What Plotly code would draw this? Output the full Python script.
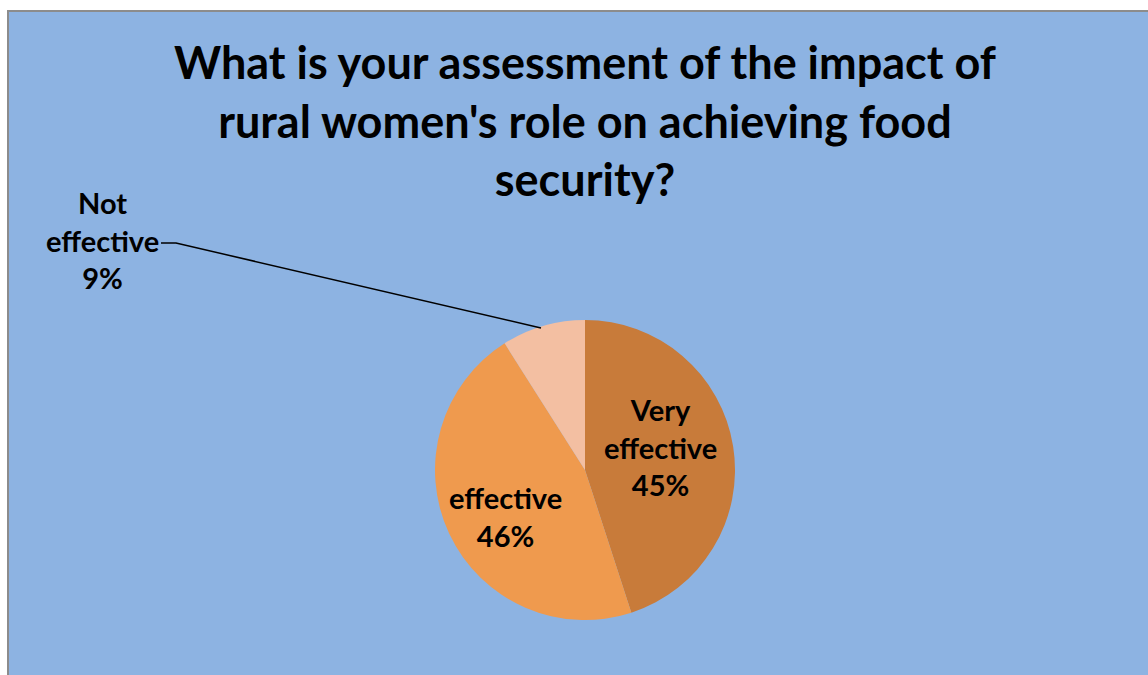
import plotly.graph_objects as go

categories = ["Very effective", "effective", "Not effective"]
values = [45, 46, 9]
colors = ["#C87B3A", "#EF9A4E", "#F3BFA2"]
title_lines = ["What is your assessment of the impact of",
               "rural women's role on achieving food",
               "security?"]

W, H = 1148, 675
cx, cy, r = 585, 470, 150

def px(x):
    return x / W

def py(y):
    return 1 - y / H

fig = go.Figure()
fig.add_trace(go.Pie(
    labels=categories, values=values, sort=False, direction="clockwise",
    rotation=0, marker=dict(colors=colors, line=dict(color="rgba(0,0,0,0)", width=0)),
    textinfo="none", hoverinfo="label+percent", showlegend=False,
    domain=dict(x=[px(cx - r), px(cx + r)], y=[py(cy + r), py(cy - r)]),
))

font = "Lato, 'Open Sans', sans-serif"
label_pos = {
    "Very effective": (660, 447),
    "effective": (505, 516),
    "Not effective": (102, 240),
}
total = sum(values)
annotations = []
for cat, v in zip(categories, values):
    words = cat.split(" ")
    lines = words + [f"{round(100 * v / total)}%"]
    x, y = label_pos[cat]
    annotations.append(dict(
        x=px(x), y=py(y), xref="paper", yref="paper", showarrow=False,
        text="<br>".join(f"<b>{l}</b>" for l in lines),
        font=dict(family=font, size=29, color="black"), align="center",
        xanchor="center", yanchor="middle",
    ))
annotations.append(dict(
    x=px(585), y=py(120), xref="paper", yref="paper", showarrow=False,
    text="<br>".join(f"<b>{l}</b>" for l in title_lines),
    font=dict(family=font, size=45, color="black"), align="center",
    xanchor="center", yanchor="middle",
))

shapes = [
    dict(type="rect", xref="paper", yref="paper", x0=px(8), x1=px(W + 5),
         y0=py(H + 5), y1=py(11), fillcolor="#8DB3E2",
         line=dict(color="#8C8C8C", width=2), layer="below"),
    dict(type="path", xref="paper", yref="paper",
         path=f"M {px(161)},{py(243)} L {px(176)},{py(243)} L {px(541)},{py(328)}",
         line=dict(color="black", width=1.5)),
]

fig.update_layout(
    width=W, height=H, margin=dict(l=0, r=0, t=0, b=0),
    paper_bgcolor="white", plot_bgcolor="white",
    annotations=annotations, shapes=shapes,
)
fig.write_html("out.html", config={"displayModeBar": False},
               post_script="document.body.style.margin='0';document.body.style.overflow='hidden';")
